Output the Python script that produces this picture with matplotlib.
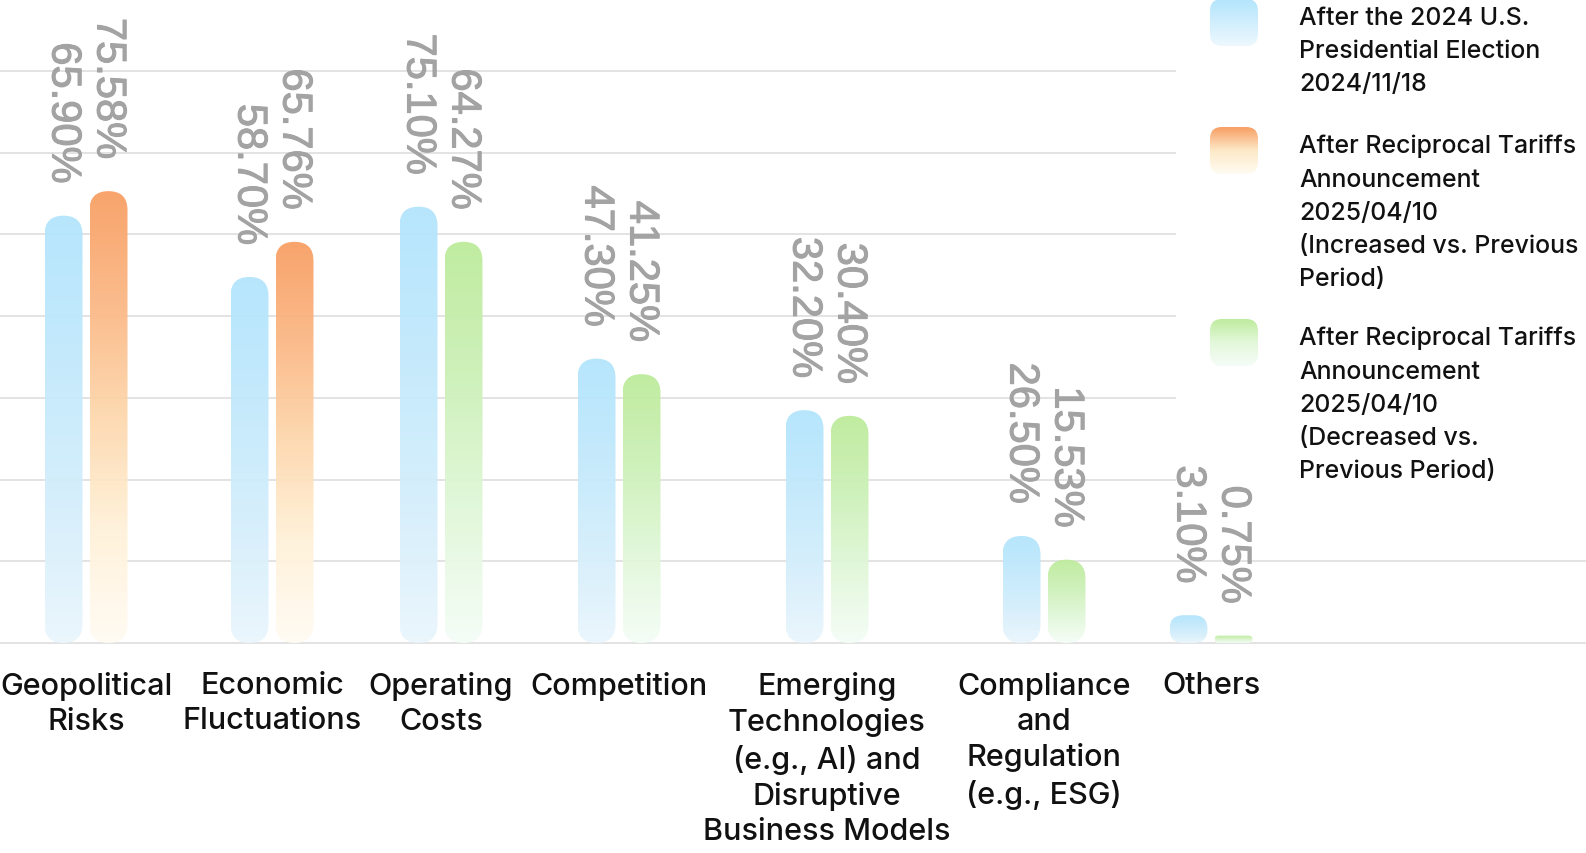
import numpy as np
import matplotlib
matplotlib.use('Agg')
import matplotlib.pyplot as plt
import matplotlib.patheffects as pe
from matplotlib.patches import FancyBboxPatch
from matplotlib.colors import LinearSegmentedColormap

#%% DATA

categories = [
    'Geopolitical\nRisks',
    'Economic\nFluctuations',
    'Operating\nCosts',
    'Competition',
    'Emerging\nTechnologies\n(e.g., AI) and\nDisruptive\nBusiness Models',
    'Compliance\nand\nRegulation\n(e.g., ESG)',
    'Others',
]

# shares printed above the bars (%)
election_pct = [65.90, 58.70, 75.10, 47.30, 32.20, 26.50, 3.10]
tariff_pct = [75.58, 65.76, 64.27, 41.25, 30.40, 15.53, 0.75]

# bar heights as drawn in the reference, read against the grid (grid step = 10)
election_bar = [52.3, 44.8, 53.4, 34.8, 28.5, 13.1, 3.4]
tariff_bar = [55.3, 49.1, 49.1, 32.9, 27.8, 10.2, 0.9]

legend_labels = [
    'After the 2024 U.S.\nPresidential Election\n2024/11/18',
    'After Reciprocal Tariffs\nAnnouncement\n2025/04/10\n(Increased vs. Previous\nPeriod)',
    'After Reciprocal Tariffs\nAnnouncement\n2025/04/10\n(Decreased vs.\nPrevious Period)',
]

grid_values = [0, 10, 20, 30, 40, 50, 60, 70]

#%% STYLE / LAYOUT

W, H = 1586, 854
PX = 8.171          # pixels per value unit
BASE_PX = 644       # baseline, pixels from top
AX_BOTTOM_PX = 652
LEG_LEFT = 1176
LEG_BOTTOM = 487

group_x = [86, 272, 441, 619, 827, 1044, 1211]   # category slots (px)
BAR_W = 38
BAR_OFF = 22.5

TEXT_FONT = ['Inter', 'DejaVu Sans']
VALUE_FONT = ['Liberation Sans', 'DejaVu Sans']

cmap_blue = LinearSegmentedColormap.from_list(
    'blue', [(0, '#eaf6fd'), (0.3, '#d6effb'), (0.7, '#c0e8fc'), (1, '#b3e5fc')])
cmap_orange = LinearSegmentedColormap.from_list(
    'orange', [(0, '#fffbf3'), (0.25, '#fff2da'), (0.5, '#fdd8ae'), (0.75, '#fbb886'), (1, '#f89f64')])
cmap_green = LinearSegmentedColormap.from_list(
    'green', [(0, '#f5fdf7'), (0.3, '#e3f8dc'), (0.65, '#cdf1b9'), (1, '#bdeb9b')])

grad = np.linspace(0, 1, 256).reshape(-1, 1)


def draw_bar(ax, xc, h, cmap):
    """ pill shaped bar filled with a vertical gradient """
    x0 = xc - BAR_W / 2
    m = 1 / PX
    r = min(BAR_W / 2, h / m / 2)
    patch = FancyBboxPatch((x0, 0), BAR_W, h,
                           boxstyle=f'round,pad=0,rounding_size={r}',
                           mutation_aspect=m, facecolor='none',
                           edgecolor='none', zorder=3)
    ax.add_patch(patch)
    im = ax.imshow(grad, cmap=cmap, extent=[x0, x0 + BAR_W, 0, h],
                   origin='lower', aspect='auto', zorder=3,
                   interpolation='bilinear', alpha=0.95)
    im.set_clip_path(patch)


#%% PLOT

fig = plt.figure(figsize=(W / 100, H / 100), dpi=100)
ax = fig.add_axes([0, (H - AX_BOTTOM_PX) / H, 1, AX_BOTTOM_PX / H])
ax.patch.set_visible(False)

# gridlines; those behind the legend stop at its left edge
grid_xmax = [LEG_LEFT if BASE_PX - g * PX < LEG_BOTTOM else W for g in grid_values]
ax.hlines(grid_values, 0, grid_xmax, color='#e0e0e0', lw=1.3, zorder=1)

gap = 32 / PX
label_fx = [pe.withStroke(linewidth=0.8, foreground='#a3a3a3')]
for i, xc in enumerate(group_x):
    tariff_cmap = cmap_orange if tariff_pct[i] > election_pct[i] else cmap_green
    for x, h, v, cm in [(xc - BAR_OFF, election_bar[i], election_pct[i], cmap_blue),
                        (xc + BAR_OFF, tariff_bar[i], tariff_pct[i], tariff_cmap)]:
        draw_bar(ax, x, h, cm)
        ax.text(x, h + gap, f'{v:.2f}%', rotation=270, ha='center', va='bottom',
                fontsize=30, color='#a3a3a3', family=VALUE_FONT, zorder=4,
                path_effects=label_fx)

ax.set_xlim(0, W)
ax.set_ylim(-(AX_BOTTOM_PX - BASE_PX) / PX, BASE_PX / PX)
ax.set_xticks(group_x)
ax.set_xticklabels(categories, fontsize=22, family=TEXT_FONT, fontweight='medium',
                   linespacing=1.31, color='#111111')
ax.tick_params(axis='x', length=0, pad=14.5)
ax.set_yticks([])
for s in ax.spines.values():
    s.set_visible(False)

#%% LEGEND

lax = fig.add_axes([LEG_LEFT / W, 1 - LEG_BOTTOM / H, (W - LEG_LEFT) / W, LEG_BOTTOM / H])
lax.axis('off')

legend_cmaps = [
    LinearSegmentedColormap.from_list('lb', ['#b3e5fc', '#eef8fe']),
    LinearSegmentedColormap.from_list('lo', ['#f89f64', '#fde9c8', '#fffcf2']),
    LinearSegmentedColormap.from_list('lg', ['#bdeb9b', '#e2f8da', '#f6fdf8']),
]
top = 0
for label, cm in zip(legend_labels, legend_cmaps):
    px0, pw, ph = 1210, 48, 47
    patch = FancyBboxPatch((px0, top), pw, ph, boxstyle='round,pad=0,rounding_size=12',
                           facecolor='none', edgecolor='none')
    lax.add_patch(patch)
    im = lax.imshow(grad, cmap=cm, extent=[px0, px0 + pw, top + ph, top],
                    origin='upper', aspect='auto', interpolation='bilinear')
    im.set_clip_path(patch)
    lax.text(1299, top + 7, label, ha='left', va='top', fontsize=17.9,
             family=TEXT_FONT, fontweight='medium', linespacing=1.56, color='#111111')
    top += label.count('\n') * 32 + 32 + 32

lax.set_xlim(LEG_LEFT, W)
lax.set_ylim(LEG_BOTTOM, 0)

fig.savefig('out.png', dpi=100)
